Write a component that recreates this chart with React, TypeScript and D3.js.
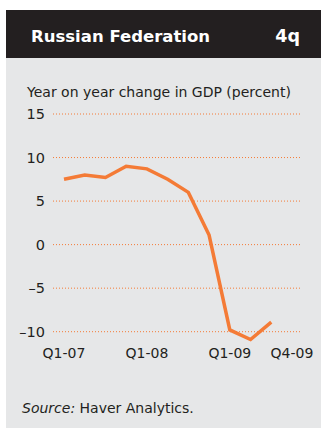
import React from "react";
import * as d3 from "d3";

// quarters Q1-07 .. Q3-09, year on year GDP change (percent)
const quarters = ["Q1-07", "Q2-07", "Q3-07", "Q4-07", "Q1-08", "Q2-08", "Q3-08", "Q4-08", "Q1-09", "Q2-09", "Q3-09", "Q4-09"];
const gdpChange = [7.5, 8.0, 7.7, 9.0, 8.7, 7.5, 6.0, 1.1, -9.8, -10.9, -8.9];
const yTicks = [15, 10, 5, 0, -5, -10];
const xTickLabels = ["Q1-07", "Q1-08", "Q1-09", "Q4-09"];

const W = 321;
const H = 430;
const ORANGE = "#f47b36";
const DARK = "#231f20";
const FONT = "'DejaVu Sans', Arial, sans-serif";

export default function App() {
  const x = d3.scalePoint<string>().domain(quarters).range([64, 292]);
  const y = d3.scaleLinear().domain([-10, 15]).range([331.7, 114]);

  const line = d3
    .line<number>()
    .x((d, i) => x(quarters[i]) as number)
    .y((d) => y(d));

  return (
    <svg width={W} height={H} style={{ position: "absolute", left: 0, top: 0 }}>
      <rect x={0} y={0} width={W} height={H} fill="#fff" />
      {/* header */}
      <rect x={6} y={10} width={W - 6} height={48} fill={DARK} />
      <text x={31} y={42} fill="#fff" fontFamily={FONT} fontWeight="bold" fontSize={16.5}>
        Russian Federation
      </text>
      <text x={300} y={42} fill="#fff" fontFamily={FONT} fontWeight="bold" fontSize={17.5} textAnchor="end">
        4q
      </text>
      {/* panel */}
      <rect x={6} y={58} width={W - 6} height={370} fill="#e6e7e8" />
      <text x={27} y={97} fill={DARK} fontFamily={FONT} fontSize={14}>
        Year on year change in GDP (percent)
      </text>

      {yTicks.map((t) => (
        <g key={t}>
          <line
            x1={53}
            x2={302}
            y1={y(t)}
            y2={y(t)}
            stroke={ORANGE}
            strokeWidth={1}
            strokeDasharray="1,2"
          />
          <text
            x={45}
            y={y(t) + 5}
            textAnchor="end"
            fill={DARK}
            fontFamily={FONT}
            fontSize={14.5}
          >
            {t < 0 ? "\u2013" + Math.abs(t) : t}
          </text>
        </g>
      ))}

      {xTickLabels.map((q) => (
        <text
          key={q}
          x={x(q)}
          y={358}
          textAnchor="middle"
          fill={DARK}
          fontFamily={FONT}
          fontSize={14}
        >
          {q}
        </text>
      ))}

      <path d={line(gdpChange) || ""} fill="none" stroke={ORANGE} strokeWidth={3.5} strokeLinejoin="miter" />

      <text x={22} y={413} fill={DARK} fontFamily={FONT} fontSize={14}>
        <tspan fontStyle="italic">Source:</tspan> Haver Analytics.
      </text>
    </svg>
  );
}
